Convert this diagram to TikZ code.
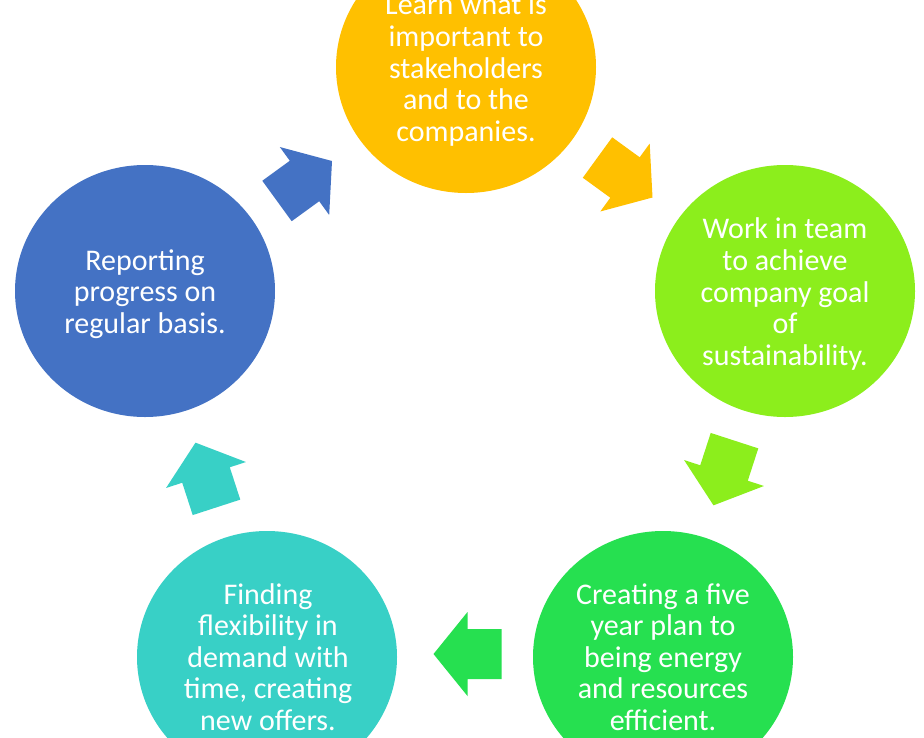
\documentclass[tikz,border=0pt]{standalone}
\usepackage{fontspec}
\setmainfont{Carlito}
\usetikzlibrary{shapes.geometric}
\definecolor{cyellow}{HTML}{FFC000}
\definecolor{cblue}{HTML}{4472C4}
\definecolor{clgreen}{HTML}{8CEE1C}
\definecolor{cdgreen}{HTML}{26E050}
\definecolor{cteal}{HTML}{38D0C6}
\tikzset{
  stage/.style={ellipse, minimum width=260pt, minimum height=252pt, inner sep=0pt,
    fill=#1, text=white, align=center,
    font=\fontsize{30}{31.6}\selectfont},
  stagetext/.style={text=white, align=center, inner sep=0pt,
    font=\fontsize{30}{31.6}\selectfont},
  blockarrow/.pic={\fill (-34,-25) -- (0,-25) -- (0,-42) -- (34,0) -- (0,42) -- (0,25) -- (-34,25) -- cycle;}
}
\begin{document}
\begin{tikzpicture}[x=1pt,y=-1pt]
\useasboundingbox (0,0) rectangle (924,737);
\clip (0,0) rectangle (924,737);
\fill[white] (0,0) rectangle (924,737);
\node[stage=cyellow] (learn) at (466,67) {};
\node[stagetext] (learnt) at (466,70) {Learn what is\\important to\\stakeholders\\and to the\\companies.};
\node[stage=clgreen] (team) at (785,291) {};
\node[stagetext] (teamt) at (785,294) {Work in team\\to achieve\\company goal\\of\\sustainability.};
\node[stage=cdgreen] (plan) at (663,657) {};
\node[stagetext] (plant) at (663,657) {Creating a five\\year plan to\\being energy\\and resources\\efficient.};
\node[stage=cteal] (flex) at (267,657) {};
\node[stagetext] (flext) at (268,657) {Finding\\flexibility in\\demand with\\time, creating\\new offers.};
\node[stage=cblue] (report) at (145,291) {};
\node[stagetext] (reportt) at (145,294) {Reporting\\progress on\\regular basis.};
\pic[fill=cblue, rotate=36] (a1) at (304.5,181) {blockarrow};
\pic[fill=cyellow, rotate=-36] (a2) at (625,177.5) {blockarrow};
\pic[fill=clgreen, rotate=-108] (a3) at (724,473) {blockarrow};
\pic[fill=cdgreen, rotate=180] (a4) at (467.5,654) {blockarrow};
\pic[fill=cteal, rotate=108] (a5) at (206,475) {blockarrow};
\end{tikzpicture}
\end{document}
